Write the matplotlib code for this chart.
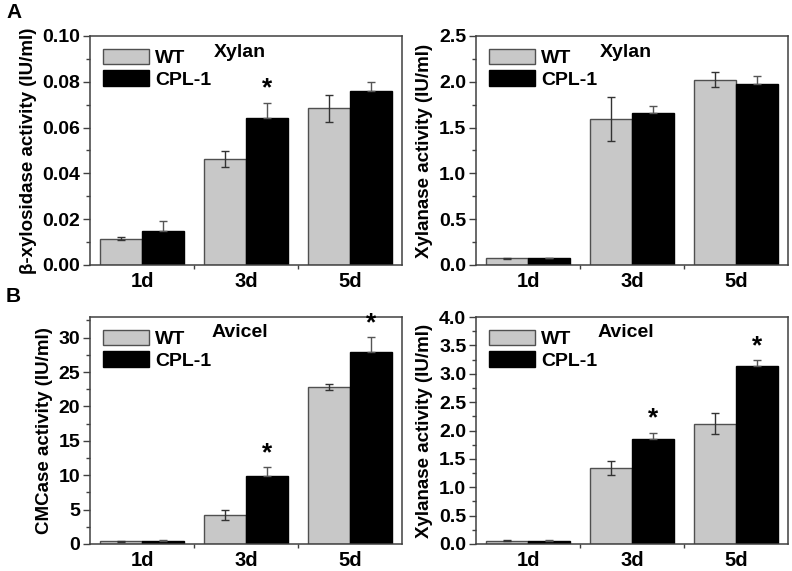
import matplotlib
matplotlib.use("Agg")
import matplotlib.pyplot as plt
import numpy as np
from matplotlib.patches import Patch

plt.rcParams['font.family'] = ['Liberation Sans', 'DejaVu Sans']
plt.rcParams['font.weight'] = 'bold'

days = ['1d', '3d', '5d']

# panel A, xylan: beta-xylosidase
bxyl_wt = [0.0115, 0.0464, 0.0684]
bxyl_wt_err = [0.0006, 0.0035, 0.0060]
bxyl_cpl = [0.0150, 0.0640, 0.0761]
bxyl_cpl_err = [0.0042, 0.0069, 0.0037]

# panel A, xylan: xylanase
xyn_x_wt = [0.073, 1.594, 2.023]
xyn_x_wt_err = [0.005, 0.235, 0.080]
xyn_x_cpl = [0.073, 1.663, 1.976]
xyn_x_cpl_err = [0.005, 0.070, 0.090]

# panel B, avicel: CMCase
cmc_wt = [0.39, 4.19, 22.83]
cmc_wt_err = [0.05, 0.70, 0.37]
cmc_cpl = [0.48, 9.83, 27.89]
cmc_cpl_err = [0.05, 1.40, 2.20]

# panel B, avicel: xylanase
xyn_a_wt = [0.059, 1.337, 2.123]
xyn_a_wt_err = [0.004, 0.123, 0.190]
xyn_a_cpl = [0.059, 1.853, 3.144]
xyn_a_cpl_err = [0.004, 0.110, 0.100]

W, H = 792, 571
fig = plt.figure(figsize=(W / 100, H / 100), dpi=100)


def make_ax(l, r, t, b):
    return fig.add_axes([l / W, 1 - b / H, (r - l) / W, (b - t) / H])


def panel(ax, wt, wt_err, cpl, cpl_err, ylim, yticks, yminor, ylabel, title, stars, fmt):
    x = np.arange(1, 4)
    w = 0.4
    ax.bar(x - w / 2, wt, w, color='#c8c8c8', edgecolor='#505050', linewidth=1, zorder=2)
    ax.bar(x + w / 2, cpl, w, color='black', edgecolor='black', linewidth=1, zorder=2)
    ax.errorbar(x - w / 2, wt, yerr=wt_err, fmt='none', ecolor='#333333', elinewidth=1, capsize=3, zorder=3)
    ax.errorbar(x + w / 2, cpl, yerr=[[0, 0, 0], cpl_err], fmt='none', ecolor='#555555', elinewidth=1, capsize=3, zorder=3)
    for i in stars:
        top = cpl[i] + cpl_err[i]
        ax.text(x[i] + w / 2, top + (ylim[1] - ylim[0]) * 0.008, '*', ha='center', va='bottom', fontsize=19, fontweight='bold')
    ax.set_xlim(0.5, 3.5)
    ax.set_ylim(*ylim)
    ax.set_xticks(x)
    ax.set_xticklabels(days, fontsize=14.5, fontweight='bold')
    ax.set_xticks([1.5, 2.5], minor=True)
    ax.set_yticks(yticks)
    ax.set_yticklabels([fmt % v for v in yticks], fontsize=14, fontweight='bold')
    ax.set_yticks(yminor, minor=True)
    ax.tick_params(which='major', direction='out', length=5, width=1, color='#404040', pad=2)
    ax.tick_params(which='minor', direction='out', length=3, width=1, color='#404040')
    ax.tick_params(axis='x', which='major', length=0, pad=5)
    for s in ax.spines.values():
        s.set_color('#404040')
        s.set_linewidth(1.1)
    ax.set_ylabel(ylabel, fontsize=13.5, fontweight='bold', labelpad=4)
    ax.text(0.48, 0.93, title, transform=ax.transAxes, ha='center', va='center', fontsize=14, fontweight='bold')
    handles = [Patch(facecolor='#c8c8c8', edgecolor='#505050'), Patch(facecolor='black', edgecolor='black')]
    ax.legend(handles, ['WT', 'CPL-1'], loc='upper left', frameon=False, prop={'size': 14, 'weight': 'bold'},
              handlelength=2.4, handleheight=0.85, labelspacing=0.15, handletextpad=0.3,
              borderaxespad=0.3, borderpad=0.35)


ax1 = make_ax(90, 402, 36, 265)
panel(ax1, bxyl_wt, bxyl_wt_err, bxyl_cpl, bxyl_cpl_err, (0, 0.10),
      np.arange(0, 0.1001, 0.02), np.arange(0, 0.1001, 0.01),
      'β-xylosidase activity (IU/ml)', 'Xylan', [1], '%.2f')

ax2 = make_ax(476, 788, 36, 265)
panel(ax2, xyn_x_wt, xyn_x_wt_err, xyn_x_cpl, xyn_x_cpl_err, (0, 2.5),
      np.arange(0, 2.501, 0.5), np.arange(0, 2.501, 0.25),
      'Xylanase activity (IU/ml)', 'Xylan', [], '%.1f')

ax3 = make_ax(90, 402, 317, 544)
panel(ax3, cmc_wt, cmc_wt_err, cmc_cpl, cmc_cpl_err, (0, 33),
      np.arange(0, 31, 5), np.arange(0, 33, 2.5),
      'CMCase activity (IU/ml)', 'Avicel', [1, 2], '%d')

ax4 = make_ax(476, 788, 317, 544)
panel(ax4, xyn_a_wt, xyn_a_wt_err, xyn_a_cpl, xyn_a_cpl_err, (0, 4.0),
      np.arange(0, 4.001, 0.5), np.arange(0, 4.001, 0.25),
      'Xylanase activity (IU/ml)', 'Avicel', [1, 2], '%.1f')

fig.text(6 / W, 1 - 12 / H, 'A', fontsize=15, fontweight='bold', ha='left', va='center')
fig.text(6 / W, 1 - 297 / H, 'B', fontsize=15, fontweight='bold', ha='left', va='center')

fig.savefig('out.png', dpi=100)
